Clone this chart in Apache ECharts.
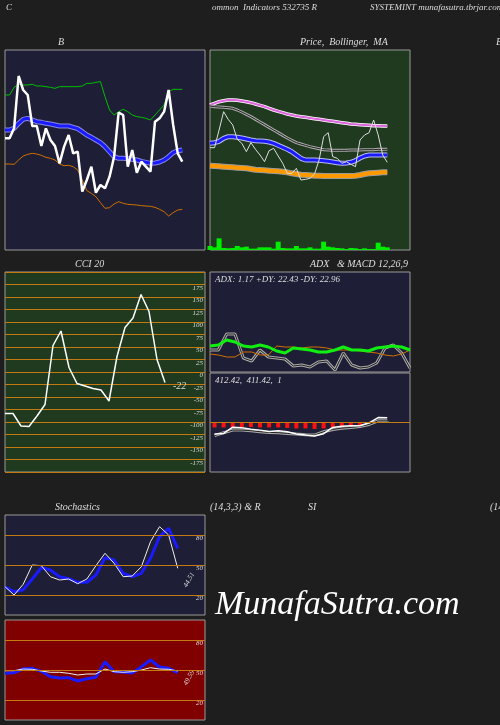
<!DOCTYPE html>
<html>
<head>
<meta charset="utf-8">
<script src="https://cdn.jsdelivr.net/npm/echarts@6/dist/echarts.min.js"></script>
<style>html,body{margin:0;background:#1e1e1e}#c{width:500px;height:725px}</style>
</head>
<body>
<div id="c"></div>
<script>
// panel 1 (bollinger) - price units, axis inverted
var bbPrice=[415,415,385,228,270,285,378,378,438,385,420,438,490,440,405,460,455,575,540,500,578,555,565,530,470,338,345,500,450,518,485,500,515,365,355,335,270,375,460,485];
var bbUpper=[285,285,262,253,255,255,253,258,258,260,262,265,260,260,260,260,260,258,250,250,247,245,290,330,345,335,328,335,345,350,352,355,360,345,330,315,275,268,268,268];
var bbMid=[390,390,385,370,358,355,360,365,367,370,372,375,378,378,378,382,386,395,405,412,420,428,440,455,470,475,475,476,478,480,484,487,490,489,486,480,470,458,452,450];
var bbLower=[492,492,493,480,468,463,460,462,466,472,475,480,492,497,496,500,510,540,572,580,590,608,625,623,612,605,610,613,614,615,617,618,619,622,628,635,648,638,630,628];
// panel 2 (price, volume, MA)
var pvPrice=[443,443,390,335,358,375,418,430,455,428,448,465,485,452,445,468,490,520,520,505,540,538,535,522,480,410,398,470,475,490,485,493,500,420,405,398,360,405,465,487];
var maPink=[315,310,305,302,300,300,301,303,305,308,312,316,320,325,330,334,338,342,345,348,350,352,354,356,358,360,362,364,366,368,370,372,373,374,375,376,377,377,378,378];
var maGray=[318,320,321,322,323,325,330,336,343,350,358,366,374,382,390,398,406,414,421,428,432,436,440,443,446,449,450,451,451,451,451,450,450,450,449,449,449,448,448,448];
var maBlue=[430,428,424,415,410,410,412,414,417,420,422,423,424,426,430,436,442,448,455,465,475,480,480,480,481,482,484,486,488,490,489,487,482,474,468,465,465,465,465,465];
var maOrange=[497,498,499,500,501,502,503,504,505,507,509,510,511,512,513,514,515,517,520,522,524,525,526,527,527,528,528,528,528,528,528,528,527,525,522,520,519,518,517,517];
var volume=[12,8,35,6,5,6,12,8,10,4,4,8,8,8,4,25,6,5,5,12,5,5,8,4,4,25,10,8,6,5,3,6,5,3,5,3,3,22,10,8];
// CCI
var cci=[-83,-83,-108,-109,-88,-65,53,82,9,-23,-28,-33,-36,-58,31,89,108,155,121,25,-21];
// ADX
var adxPlus=[26,27,32,30,26,25,27,25,21,19,24,23,22,20,20,22,25,22,22,21,24,25,26,25,22];
var adxMinus=[18,17,15,15,20,20,17,17,26,25,25,24,25,25,24,22,22,22,21,20,19,17,16,18,22];
var adxLine=[22,22,38,38,14,11,22,15,14,13,6,7,5,10,11,2,19,7,4,5,9,24,27,19,4];
// MACD
var macd=[-11.7,-11,-4.7,-5.3,-6.7,-7.7,-9,-8.3,-9.3,-11.7,-12.7,-13.7,-11.3,-5,-3.7,-3.3,-3.3,-0.3,5,4.7];
var macdSignal=[-13.3,-10.3,-7.7,-7.7,-8.3,-9.3,-10,-10.3,-11,-11.7,-12.3,-12.7,-9.3,-7,-5.7,-5,-4,-2,1.7,1.7];
var macdHist=[-5,-5,-4.5,-4.5,-4.5,-5,-5,-5,-5.5,-6,-6,-6.5,-6,-5,-4.5,-4,-3,-2,2,1];
// Stochastics and RSI
var stochK=[28.3,20,30.7,50,49.3,38.3,35,36,31.3,36,49.3,61.7,51.7,38.3,39,48.3,73.3,88.3,80,46.7];
var stochD=[28.3,23.3,25.3,36,47.3,45,38.3,36.3,32.7,32.7,40,57.3,55,41.7,38.3,41.7,56.7,78.3,86.7,66.7];
var rsiBlue=[46.7,47.3,51,51.7,48.7,43.3,42,42.3,39,41.3,42.7,58.3,48.3,48,47,53.3,60,53,51.7,47.3];
var rsiWhite=[49.3,49.3,51,50.7,49,47.7,47.7,46.7,45,46,46,51,48.3,47.7,48.3,50,52.3,51,50.7,49];
var levels=[80,50,20];

var navy='#1e1e36', green='#1f3a1f', brown='#c47a10';
var font='Liberation Serif';
function cats(n){var a=[];for(var i=0;i<n;i++)a.push(i);return a;}
function grid(l,t,w,h,bg){return {left:l,top:t,width:w,height:h,show:true,backgroundColor:bg,borderColor:'#999',borderWidth:1};}
function xa(g,n,gap){return {type:'category',gridIndex:g,data:cats(n),boundaryGap:gap,show:false};}
function ya(g,min,max,opt){return Object.assign({type:'value',gridIndex:g,min:min,max:max,show:false,splitLine:{show:false}},opt||{});}
function ln(g,yi,data,color,w,extra){return Object.assign({type:'line',xAxisIndex:g,yAxisIndex:yi,data:data,symbol:'none',silent:true,lineStyle:{color:color,width:w},z:3},extra||{});}
function lvlAxis(g,min,max,interval){
  return {type:'value',gridIndex:g,min:min,max:max,interval:interval,position:'right',
    axisLine:{show:false},axisTick:{show:false},
    splitLine:{show:true,lineStyle:{color:brown,width:1}},
    axisLabel:{inside:true,margin:2,color:'#ddd',fontSize:7,fontStyle:'italic',fontFamily:font,verticalAlign:'top',
      formatter:function(v){return Math.abs(v)>=200?'':String(v);}}};
}
function stochAxis(g){
  var a=lvlAxis(g,0,100,10);
  a.splitLine.show=false;
  a.axisLabel.formatter=function(v){return levels.indexOf(v)>=0?String(v):'';};
  return a;
}
var lvlLines={silent:true,symbol:'none',label:{show:false},lineStyle:{color:brown,type:'solid',width:1},
  data:levels.map(function(v){return {yAxis:v};})};
function txt(x,y,s,size,anchor){return {type:'text',left:x,top:y,style:{text:s,fill:'#ddd',font:'italic '+(size||9)+'px "'+font+'"',textAlign:anchor||'left'}};}

var option={
  backgroundColor:'#1e1e1e',animation:false,
  grid:[grid(5,50,200,200,navy),grid(210,50,200,200,green),grid(5,272,200,200,green),
        grid(210,272,200,100,navy),grid(210,373,200,99,navy),grid(5,515,200,100,navy),grid(5,620,200,100,'#800000')],
  xAxis:[xa(0,45,false),xa(1,45,false),xa(2,26,false),xa(3,25,false),xa(4,22,true),xa(5,23,false),xa(6,23,false),xa(1,45,false)],
  yAxis:[ya(0,150,750,{inverse:true}),ya(1,150,750,{inverse:true}),lvlAxis(2,-200,200,25),
         ya(3,0,100),ya(4,-50,50),stochAxis(5),stochAxis(6),ya(1,0,600)],
  series:[
    ln(0,0,bbUpper,'#00c000',1),ln(0,0,bbLower,'#d07000',1),
    ln(0,0,bbMid,'#8888dd',5),ln(0,0,bbMid,'#1a1aff',3),ln(0,0,bbPrice,'#fff',2.5),
    {type:'bar',xAxisIndex:7,yAxisIndex:7,data:volume,barWidth:5,itemStyle:{color:'#00ee00'},silent:true},
    ln(1,1,maPink,'#fff',3.5),ln(1,1,maPink,'#dd66dd',2),
    ln(1,1,maGray,'#aaa',3),ln(1,1,maGray,'#222',1),
    ln(1,1,maOrange,'#999',6),ln(1,1,maOrange,'#ff9900',4),
    ln(1,1,maBlue,'#bbbbee',5),ln(1,1,maBlue,'#1a1aff',3),
    ln(1,1,pvPrice,'#ddd',1),
    ln(2,2,cci,'#fff',1.5,{endLabel:{show:true,formatter:'-22',color:'#ddd',fontSize:10,fontStyle:'italic',fontFamily:font,offset:[0,4]}}),
    ln(3,3,adxLine,'#aaa',3),ln(3,3,adxLine,'#222',1),
    ln(3,3,adxMinus,'#d07000',1),ln(3,3,adxPlus,'#11ee11',3),
    {type:'bar',xAxisIndex:4,yAxisIndex:4,data:macdHist.map(function(v){return {value:v,itemStyle:{color:v<0?'#ff1010':'#11ee11'}};}),barWidth:4,silent:true,
      markLine:{silent:true,symbol:'none',label:{show:false},lineStyle:{color:brown,type:'solid',width:1},data:[{yAxis:0}]}},
    ln(4,4,macdSignal,'#aaa',3),ln(4,4,macdSignal,'#222',1),ln(4,4,macd,'#fff',1.5),
    ln(5,5,stochD,'#1a1aff',3,{markLine:lvlLines}),ln(5,5,stochK,'#eee',1),
    ln(6,6,rsiBlue,'#1a1aff',3,{markLine:lvlLines}),ln(6,6,rsiWhite,'#eee',1)
  ],
  graphic:[
    txt(6,3,'C'),txt(212,3,'ommon  Indicators 532735 R','9','center'),txt(370,3,'SYSTEMINT munafasutra.tbrjar.com',9,'center'),
    txt(58,37,'B',10,'center'),txt(300,37,'Price,  Bollinger,  MA',10,'center'),txt(496,37,'B',10),
    txt(75,259,'CCI 20',10,'center'),txt(310,259,'ADX   & MACD 12,26,9',10,'center'),
    txt(215,275,'ADX: 1.17 +DY: 22.43 -DY: 22.96',9),txt(215,376,'412.42,  411.42,  1',9),
    txt(55,502,'Stochastics',10,'center'),txt(210,502,'(14,3,3) & R',10,'center'),txt(308,502,'SI',10,'center'),txt(490,502,'(14,5',10,'center'),
    {type:'text',x:182,y:585,rotation:Math.PI/3,style:{text:'44.51',fill:'#ddd',font:'italic 7px "'+font+'"'}},
    {type:'text',x:182,y:683,rotation:Math.PI/3,style:{text:'49.59',fill:'#ddd',font:'italic 7px "'+font+'"'}},
    {type:'text',left:215,top:588,style:{text:'MunafaSutra.com',fill:'#fff',font:'italic 34px "'+font+'"'}}
  ]
};
echarts.init(document.getElementById('c')).setOption(option);
</script>
</body>
</html>
